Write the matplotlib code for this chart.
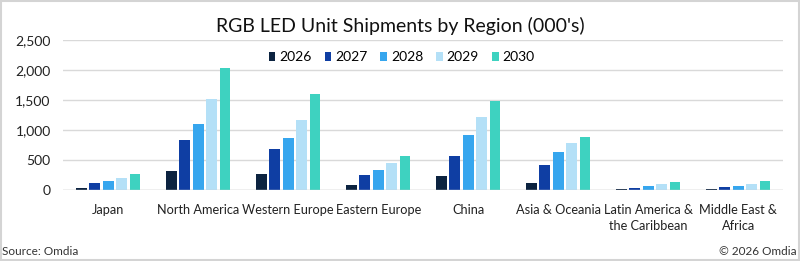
import numpy as np
import matplotlib.pyplot as plt
from matplotlib.patches import Rectangle

regions = ['Japan', 'North America', 'Western Europe', 'Eastern Europe', 'China',
           'Asia & Oceania', 'Latin America &\nthe Caribbean', 'Middle East &\nAfrica']
years = ['2026', '2027', '2028', '2029', '2030']

v2026 = [35, 320, 270, 85, 235, 120, 12, 12]
v2027 = [110, 840, 680, 245, 560, 420, 40, 45]
v2028 = [145, 1100, 860, 340, 910, 640, 75, 75]
v2029 = [195, 1510, 1170, 445, 1220, 780, 105, 105]
v2030 = [260, 2030, 1600, 570, 1490, 880, 135, 150]

colors = ['#0c2340', '#0f3ea3', '#36a6ee', '#b4e0f7', '#3ed2c0']

plt.rcParams['font.family'] = ['Lato', 'DejaVu Sans']

fig = plt.figure(figsize=(8, 2.61), dpi=100)
ax = fig.add_axes([0.079, 0.272, 0.9, 0.575])

x = np.arange(len(regions))
slot = 0.149
bw = 0.118
series = [v2026, v2027, v2028, v2029, v2030]
for i, (vals, col, yr) in enumerate(zip(series, colors, years)):
    ax.bar(x + (i - 2) * slot, vals, width=bw, color=col, label=yr, zorder=3)

ax.set_xlim(-0.5, len(regions) - 0.5)
ax.set_ylim(0, 2500)
ax.set_yticks(range(0, 2501, 500))
ax.set_yticklabels([f'{v:,}' for v in range(0, 2501, 500)], fontsize=10, color='#222222')
ax.set_xticks(x)
ax.set_xticklabels(regions, fontsize=9.2, color='#222222', linespacing=1.4)
ax.tick_params(axis='both', length=0)
ax.tick_params(axis='y', pad=9)
ax.tick_params(axis='x', pad=10)
ax.grid(axis='y', color='#d9d9d9', linewidth=1, zorder=0)
for s in ax.spines.values():
    s.set_visible(False)
ax.axhline(0, color='#d0d0d0', linewidth=1, zorder=4)

ax.legend(loc='upper center', bbox_to_anchor=(0.47, 0.96), ncol=5, frameon=False,
          fontsize=10, handlelength=0.5, handleheight=0.6, handletextpad=0.25,
          columnspacing=0.95, borderaxespad=0)

fig.text(0.5, 0.9, "RGB LED Unit Shipments by Region (000's)", ha='center', va='center',
         fontsize=14, color='#111111')
fig.text(0.003, 0.035, 'Source: Omdia', ha='left', va='center', fontsize=8.5, color='#333333')
fig.text(0.996, 0.035, '\u00a9 2026 Omdia', ha='right', va='center', fontsize=8.5, color='#333333')

fig.patches.append(Rectangle((0.001, 0.002), 0.998, 0.996, transform=fig.transFigure,
                             fill=False, edgecolor='#d4d4d4', linewidth=1.5))

plt.savefig('out.png', dpi=100)
